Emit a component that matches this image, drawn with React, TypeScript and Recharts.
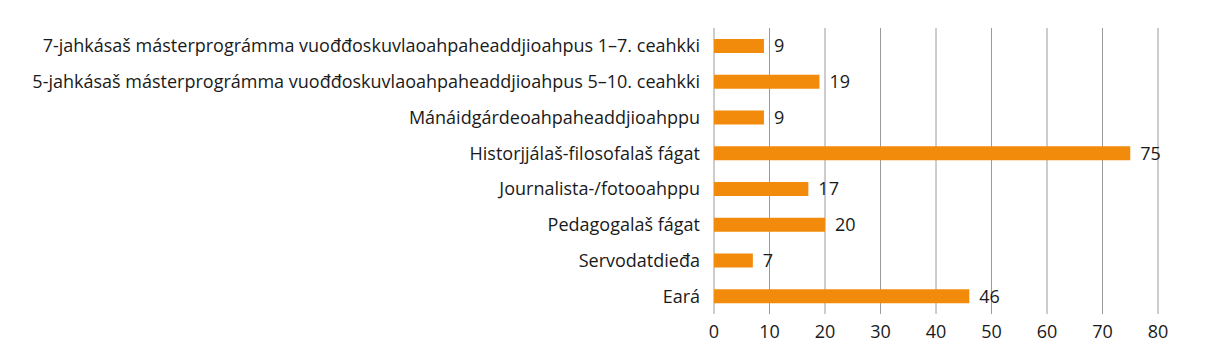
import React from "react";
import { BarChart, Bar, XAxis, YAxis, CartesianGrid, LabelList } from "recharts";

const categories = [
  "7-jahkásaš másterprográmma vuođđoskuvlaoahpaheaddjioahpus 1–7. ceahkki",
  "5-jahkásaš másterprográmma vuođđoskuvlaoahpaheaddjioahpus 5–10. ceahkki",
  "Mánáidgárdeoahpaheaddjioahppu",
  "Historjjálaš-filosofalaš fágat",
  "Journalista-/fotooahppu",
  "Pedagogalaš fágat",
  "Servodatdieđa",
  "Eará",
];

const values = [9, 19, 9, 75, 17, 20, 7, 46];

const xTicks = [0, 10, 20, 30, 40, 50, 60, 70, 80];

const data = categories.map((name, i) => ({ name, value: values[i] }));

const font = "'Open Sans', 'Noto Sans', sans-serif";

export default function App() {
  return (
    <div style={{ width: 1199, height: 342, fontFamily: font }}>
      <BarChart
        width={1199}
        height={342}
        data={data}
        layout="vertical"
        margin={{ top: 20, right: 49, left: 0, bottom: 0 }}
        barCategoryGap={11}
      >
        <CartesianGrid horizontal={false} vertical stroke="#9a9a9a" strokeWidth={1} />
        <XAxis
          type="number"
          domain={[0, 80]}
          ticks={xTicks}
          interval={0}
          axisLine={false}
          tickLine={false}
          tickMargin={5}
          height={36}
          tick={{ fill: "#1a1a1a", fontSize: 18, fontFamily: font }}
        />
        <YAxis
          type="category"
          dataKey="name"
          width={706}
          axisLine={false}
          tickLine={false}
          tickMargin={8}
          interval={0}
          tick={{ fill: "#1a1a1a", fontSize: 18, fontFamily: font }}
        />
        <Bar dataKey="value" fill="#f28b0b" barSize={14} isAnimationActive={false}>
          <LabelList
            dataKey="value"
            position="right"
            offset={10}
            style={{ fill: "#1a1a1a", fontSize: 18, fontFamily: font }}
          />
        </Bar>
      </BarChart>
    </div>
  );
}
